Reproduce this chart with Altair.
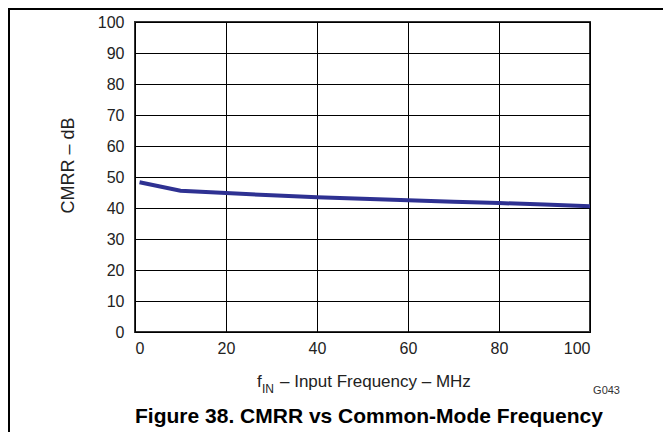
import altair as alt
import pandas as pd

freq = [1, 10, 20, 30, 40, 50, 60, 70, 80, 90, 100]
cmrr = [48.3, 45.6, 44.8, 44.1, 43.5, 43.0, 42.5, 42.0, 41.6, 41.1, 40.6]
x_ticks = [0, 20, 40, 60, 80, 100]
y_ticks = [0, 10, 20, 30, 40, 50, 60, 70, 80, 90, 100]

title_text = "Figure 38. CMRR vs Common-Mode Frequency"
y_title = "CMRR – dB"
x_title_f = "f"
x_title_sub = "IN"
x_title_rest = "– Input Frequency – MHz"
code_text = "G043"

df = pd.DataFrame({"freq": freq, "cmrr": cmrr})
one = alt.Data(values=[{}])

FONT = "Liberation Sans"

line = alt.Chart(df).mark_line(color="#2E3192", strokeWidth=4, clip=True).encode(
    x=alt.X("freq:Q", scale=alt.Scale(domain=[0, 100], nice=False),
            axis=alt.Axis(values=x_ticks, title=None, grid=True, ticks=False,
                          domain=False, labelPadding=8, labelFontSize=16,
                          labelColor="#222", gridColor="#000", gridWidth=1,
                          labelFont=FONT)),
    y=alt.Y("cmrr:Q", scale=alt.Scale(domain=[0, 100], nice=False),
            axis=alt.Axis(values=y_ticks, title=y_title, grid=True, ticks=False,
                          domain=False, labelPadding=11, labelFontSize=16,
                          labelColor="#222", gridColor="#000", gridWidth=1,
                          labelFont=FONT, titleFont=FONT, titleFontSize=18,
                          titleFontWeight="normal", titleColor="#222",
                          titleAngle=-90, titleX=-67, titleY=143,
                          titleAlign="center", titleBaseline="middle")),
)

def txt(text, x, y, size, align="left", weight="normal", color="#222"):
    return alt.Chart(one).mark_text(
        text=text, align=align, baseline="alphabetic", fontSize=size,
        fontWeight=weight, font=FONT, color=color
    ).encode(x=alt.value(x), y=alt.value(y))

t_f = txt(x_title_f, 122, 365, 17)
t_sub = txt(x_title_sub, 127, 371, 12)
t_rest = txt(x_title_rest, 145, 365, 17)
t_code = txt(code_text, 485, 372, 11, align="right", color="#333")
t_title = txt(title_text, 234, 401, 21, align="center", weight="bold", color="#000")

left_border = alt.Chart(one).mark_rule(color="#000", strokeWidth=2).encode(
    x=alt.value(-126), y=alt.value(-13), y2=alt.value(420))
top_border = alt.Chart(one).mark_rule(color="#000", strokeWidth=2).encode(
    x=alt.value(-127), x2=alt.value(560), y=alt.value(-13))

chart = alt.layer(line, t_f, t_sub, t_rest, t_code, t_title, left_border, top_border).properties(
    width=455, height=310,
    autosize=alt.AutoSizeParams(type="none"),
    padding={"left": 127, "top": 14, "right": 73, "bottom": 100},
    background="white",
).configure_view(stroke="#333", strokeWidth=2)

chart.save("out.html", embed_options={"renderer": "svg", "actions": False})
